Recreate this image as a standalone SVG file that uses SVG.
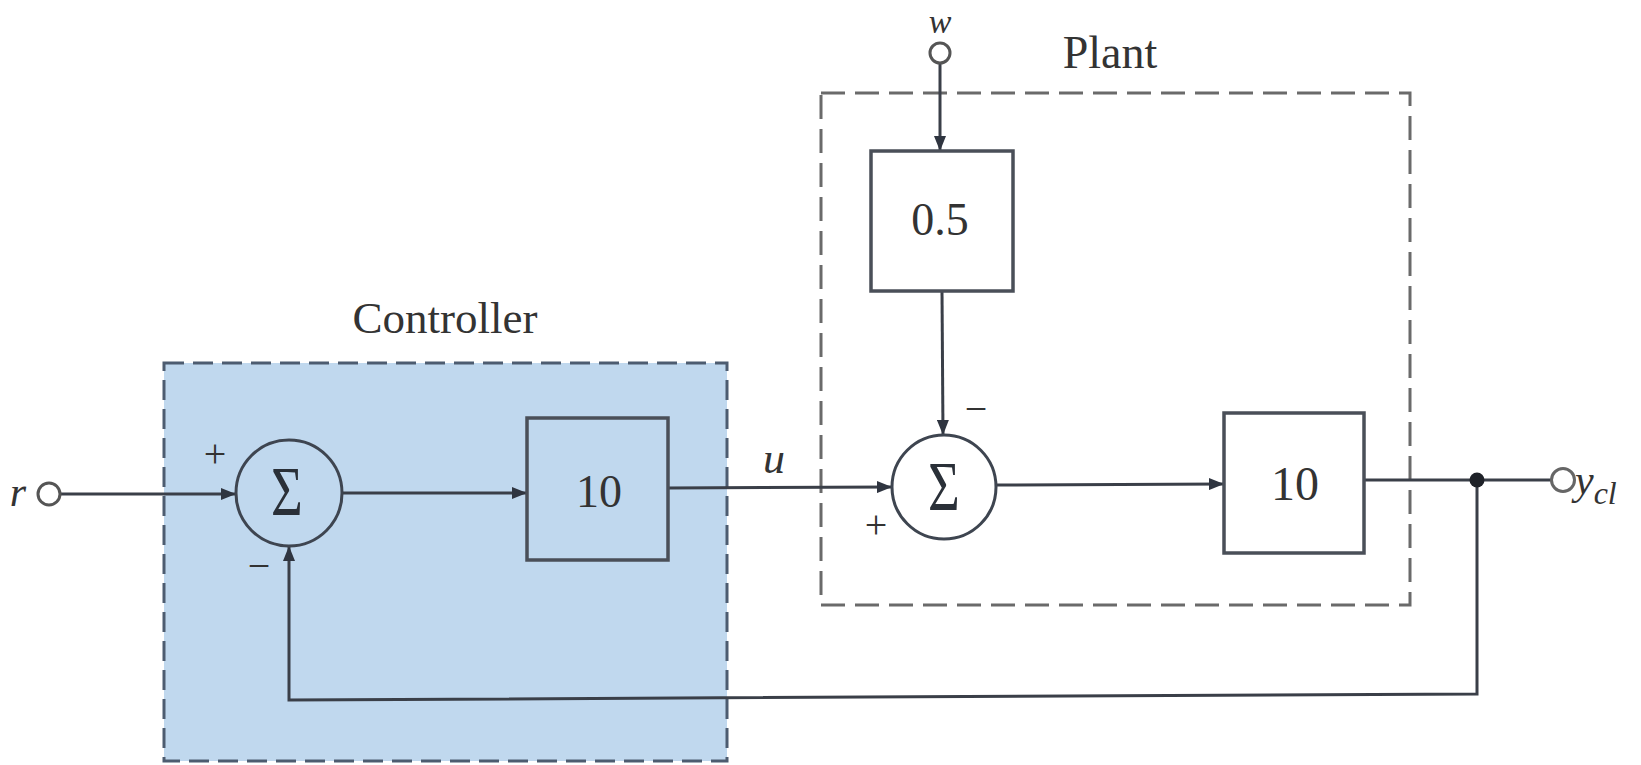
<svg xmlns="http://www.w3.org/2000/svg" width="1641" height="765" viewBox="0 0 1641 765">
<defs>
<marker id="arr" markerUnits="userSpaceOnUse" markerWidth="16" markerHeight="12" refX="15" refY="6" orient="auto">
<path d="M0,0 L15,6 L0,12 z" fill="#2f3540"/>
</marker>
</defs>
<style>
.ln{stroke:#3a3f48;stroke-width:3;fill:none}
.blk{fill:none;stroke:#4a4f58;stroke-width:3.5}
.sum{fill:none;stroke:#3e4550;stroke-width:3}
.t{font-family:"Liberation Serif","Times New Roman",serif;fill:#333}
.it{font-style:italic}
.sig{font-family:"Liberation Serif","Times New Roman",serif;fill:#2a3038;font-size:70px;text-anchor:middle}
</style>
<rect width="1641" height="765" fill="#ffffff"/>

<g id="controller">
<rect x="164" y="363" width="563" height="398" fill="#c0d8ee" stroke="#4d5c70" stroke-width="3" stroke-dasharray="20 9"/>
<text class="t" x="445" y="333" font-size="45" text-anchor="middle">Controller</text>
</g>

<g id="plant">
<rect x="821" y="93" width="589" height="512" fill="none" stroke="#6a6a6a" stroke-width="3" stroke-dasharray="24 10"/>
<text class="t" x="1110" y="68" font-size="46" text-anchor="middle">Plant</text>
</g>

<g id="connectors">
<line class="ln" x1="60" y1="494" x2="236" y2="494" marker-end="url(#arr)"/>
<line class="ln" x1="342" y1="493" x2="527" y2="493" marker-end="url(#arr)"/>
<line class="ln" x1="668" y1="488" x2="892" y2="487" marker-end="url(#arr)"/>
<line class="ln" x1="996" y1="485" x2="1224" y2="484" marker-end="url(#arr)"/>
<line class="ln" x1="1364" y1="480" x2="1552" y2="480"/>
<polyline class="ln" points="1477,480 1477,694 289,700 289,546" marker-end="url(#arr)"/>
<line class="ln" x1="940" y1="63" x2="940" y2="151" marker-end="url(#arr)"/>
<line class="ln" x1="942" y1="291" x2="943" y2="435" marker-end="url(#arr)"/>
<circle cx="1477" cy="480" r="7.5" fill="#1e2228"/>
</g>

<g id="r-input">
<circle cx="49" cy="494" r="11" fill="#fff" stroke="#555" stroke-width="3"/>
<text class="t it" x="18" y="506" font-size="42" text-anchor="middle">r</text>
</g>

<g id="sum1">
<circle class="sum" cx="289" cy="493" r="53"/>
<text class="sig" transform="translate(287,515) scale(0.78,1)">Σ</text>
<text class="t" x="215" y="467" font-size="40" text-anchor="middle">+</text>
<text class="t" x="259" y="579" font-size="40" text-anchor="middle">−</text>
</g>

<g id="gain-controller">
<rect class="blk" x="527" y="418" width="141" height="142"/>
<text class="t" x="599" y="507" font-size="46" text-anchor="middle">10</text>
</g>

<g id="u-label">
<text class="t it" x="774" y="473" font-size="44" text-anchor="middle">u</text>
</g>

<g id="w-input">
<circle cx="940" cy="53" r="10" fill="#fff" stroke="#555" stroke-width="3"/>
<text class="t it" x="940" y="33" font-size="34" text-anchor="middle">w</text>
</g>

<g id="gain-disturbance">
<rect class="blk" x="871" y="151" width="142" height="140"/>
<text class="t" x="940" y="235" font-size="46" text-anchor="middle">0.5</text>
</g>

<g id="sum2">
<circle class="sum" cx="944" cy="487" r="52"/>
<text class="sig" transform="translate(944,510) scale(0.78,1)">Σ</text>
<text class="t" x="976" y="422" font-size="40" text-anchor="middle" fill="#999">−</text>
<text class="t" x="876" y="538" font-size="40" text-anchor="middle" fill="#999">+</text>
</g>

<g id="gain-plant">
<rect class="blk" x="1224" y="413" width="140" height="140"/>
<text class="t" x="1295" y="500" font-size="48" text-anchor="middle" fill="#666">10</text>
</g>

<g id="y-output">
<circle cx="1563" cy="480" r="11.5" fill="#fff" stroke="#666" stroke-width="3"/>
<text class="t it" x="1575" y="494" font-size="42" fill="#777">y<tspan font-size="32" dy="10">cl</tspan></text>
</g>
</svg>
